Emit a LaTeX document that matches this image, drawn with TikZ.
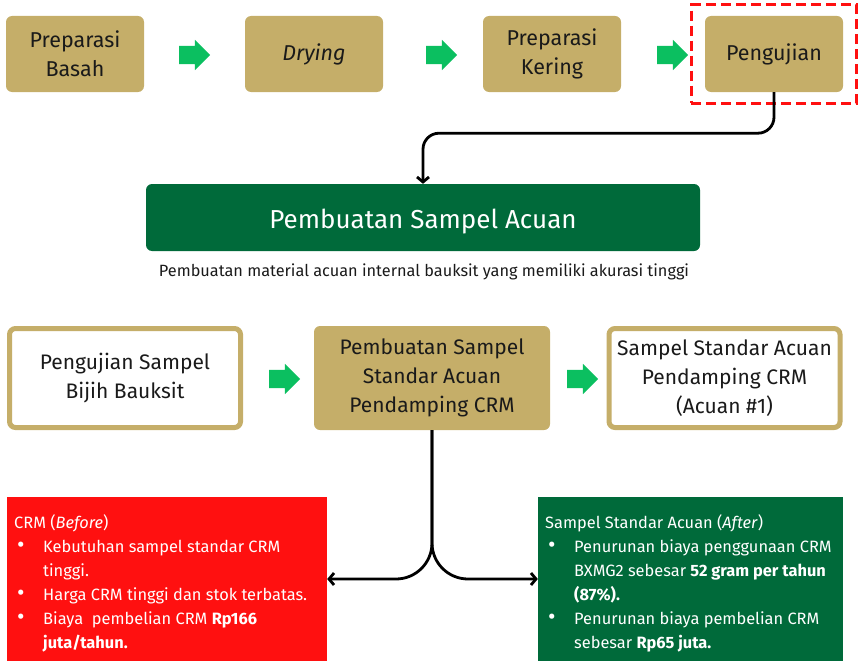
\documentclass[tikz,border=0pt]{standalone}
\usepackage{fontspec}
\setmainfont{Fira Sans}
\usetikzlibrary{arrows.meta,positioning,fit,shapes.arrows}
\definecolor{tan}{HTML}{C5AE69}
\definecolor{leaf}{HTML}{006A3A}
\definecolor{go}{HTML}{0BBF60}
\definecolor{alarm}{HTML}{FF1010}
\definecolor{ink}{HTML}{1A1A1A}
\newcommand{\itm}{\hspace*{3pt}\makebox[26pt][l]{\scalebox{1.4}{\textbullet}}}
\newcommand{\nxt}{\hspace*{29pt}}

\begin{document}
\begin{tikzpicture}[x=1pt,y=-1pt,>={Straight Barb[length=5pt,width=12pt]},
 t/.style={fill=tan,rounded corners=6pt,align=center,text=ink,inner sep=0pt,
 minimum width=138pt,minimum height=76pt,font=\fontsize{21.5}{29}\selectfont},
 w/.style={t,fill=white,draw=tan,line width=5pt,minimum width=231pt,minimum height=99pt,
 font=\fontsize{21}{29}\selectfont},
 g/.style={single arrow,fill=go,inner xsep=0pt,inner ysep=9pt,minimum height=31pt,
 single arrow head extend=6pt},
 pane/.style={inner sep=0pt,minimum height=164pt},
 list/.style={anchor=north west,align=left,inner sep=0pt,text=white,
 font=\fontsize{16.4}{24}\selectfont},
 l/.style={line width=2.8pt,rounded corners=16pt}]
\useasboundingbox (0,0) rectangle (859,661);
\node[t] (wet) at (75,54) {Preparasi\\Basah};
\node[t] (dry) at (314,54) {\textit{Drying}};
\node[t] (dryprep) at (552,54) {Preparasi\\Kering};
\node[t] (test) at (774,54) {Pengujian};
\node[g] (g1) at (190,55) {};
\node[g] (g2) at (437,55) {};
\node[g] (g3) at (668,55) {};
\node[draw=alarm,line width=3pt,dash pattern=on 10pt off 5pt,fit=(test),
 inner xsep=13.5pt,inner ysep=11pt] (mark) {};
\node[fill=leaf,rounded corners=6pt,minimum width=554pt,minimum height=67pt,text=white,
 text height=21pt,text depth=0pt,font=\fontsize{26}{30}\selectfont] (ref) at (423,217.5)
 {Pembuatan Sampel Acuan};
\node[text=ink,font=\fontsize{16.3}{18}\selectfont] (note) at (424,272)
 {Pembuatan material acuan internal bauksit yang memiliki akurasi tinggi};
\node[w] (ore) at (125,378) {Pengujian Sampel\\Bijih Bauksit};
\node[t,minimum width=236pt,minimum height=104pt,font=\fontsize{21}{29}\selectfont] (make)
 at (432,378) {Pembuatan Sampel\\Standar Acuan\\Pendamping CRM};
\node[w] (crm) at (724.5,378) {Sampel Standar Acuan\\Pendamping CRM\\(Acuan \#1)};
\node[g] (g4) at (280,379) {};
\node[g] (g5) at (578,379) {};
\node[pane,fill=alarm,minimum width=320pt] (before) at (167,579) {};
\node[pane,fill=leaf,minimum width=305pt] (after) at (690.5,579) {};
\node[list] (beforetxt) at (14,514) {CRM (\textit{Before})\\
 \itm Kebutuhan sampel standar CRM\\
 \nxt tinggi.\\
 \itm Harga CRM tinggi dan stok terbatas.\\
 \itm Biaya\ \ pembelian CRM \textbf{Rp166}\\
 \nxt\textbf{juta/tahun.}};
\node[list] (aftertxt) at (545,514) {Sampel Standar Acuan (\textit{After})\\
 \itm Penurunan biaya penggunaan CRM\\
 \nxt BXMG2 sebesar \textbf{52 gram per tahun}\\
 \nxt\textbf{(87\%).}\\
 \itm Penurunan biaya pembelian CRM\\
 \nxt sebesar \textbf{Rp65 juta.}};
\draw[l,->] (test.south) -- ++(0,41) -| (ref.north);
\draw[l,rounded corners=36pt,->] (make.south) |- (before.east);
\draw[l,rounded corners=36pt,->] (make.south) |- (after.west);
\end{tikzpicture}
\end{document}
